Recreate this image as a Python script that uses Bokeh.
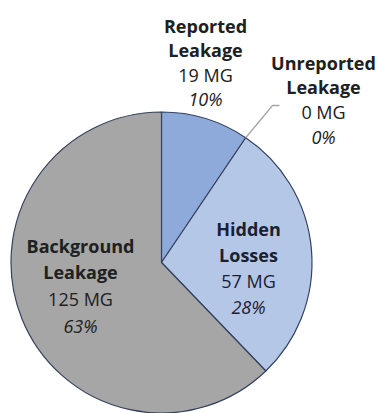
import math
from bokeh.plotting import figure
from bokeh.models import Range1d
from bokeh.core.properties import value
from bokeh.embed import file_html
from bokeh.resources import INLINE

# ---- data ----
categories = ["Reported Leakage", "Unreported Leakage", "Hidden Losses", "Background Leakage"]
title_lines = [["Reported", "Leakage"], ["Unreported", "Leakage"], ["Hidden", "Losses"], ["Background", "Leakage"]]
volumes_mg = [19, 0, 57, 125]
volume_labels = ["19 MG", "0 MG", "57 MG", "125 MG"]
percent_labels = ["10%", "0%", "28%", "63%"]
colors = ["#8eaadb", "#8eaadb", "#b4c7e7", "#a6a6a6"]

# ---- layout ----
W, H = 377, 413
CX, CY, R = 161, 262, 150.5          # pie centre / radius in pixels (y down)
label_pos = [(205, 25, 24.5), (323, 62, 24.7), (248, 228, 26.3), (80, 245, 26.7)]  # centre x, first baseline, line step
text_colors = ["#202020", "#202020", "#1a2033", "#202020"]
FONT = "Open Sans"
FS = "18px"


def Y(py):
    return H - py


p = figure(width=W, height=H, x_range=Range1d(0, W), y_range=Range1d(0, H),
           output_backend="svg", toolbar_location=None,
           x_axis_type=None, y_axis_type=None, min_border=0)
p.grid.visible = False
p.outline_line_color = None
p.background_fill_color = "white"
p.border_fill_color = "white"

total = float(sum(volumes_mg))
cum = 0.0
boundaries = []
for cat, v, c in zip(categories, volumes_mg, colors):
    a0 = math.pi / 2 - 2 * math.pi * cum / total
    cum += v
    a1 = math.pi / 2 - 2 * math.pi * cum / total
    boundaries.append(a0)
    if v > 0:
        p.wedge(x=CX, y=Y(CY), radius=R, radius_units="screen",
                start_angle=a0, end_angle=a1, direction="clock",
                fill_color=c, line_color="#34425e", line_width=1.2)

# leader line for the zero-sized slice
a = boundaries[1]
sx, sy = CX + R * math.cos(a), Y(CY) + R * math.sin(a)
p.line(x=[sx, 272, 279], y=[sy, Y(105), Y(105)], line_color="#a6a6a6", line_width=1.3)

for i in range(len(categories)):
    x0, b0, step = label_pos[i]
    lines = title_lines[i] + [volume_labels[i], percent_labels[i]]
    styles = ["bold", "bold", "normal", "italic"]
    for j, (t, st) in enumerate(zip(lines, styles)):
        p.text(x=[x0], y=[Y(b0 + j * step)], text=[t], text_align="center",
               text_baseline="alphabetic", text_font=value(FONT),
               text_font_size=FS, text_font_style=st, text_color=text_colors[i])

open("out.html", "w").write(file_html(p, INLINE))
